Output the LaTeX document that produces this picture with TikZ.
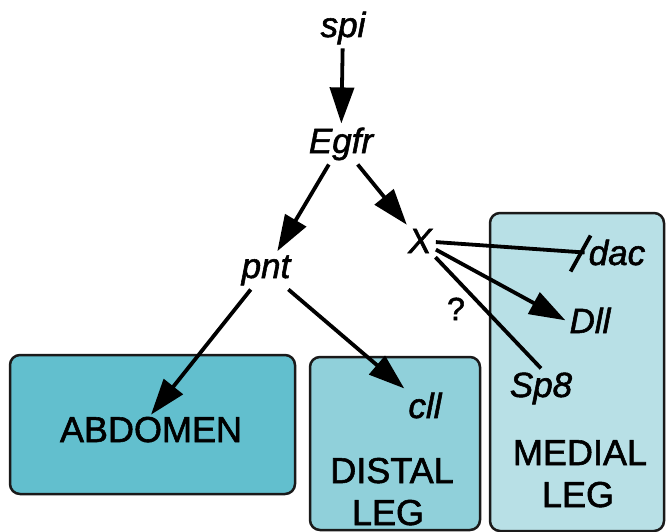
\documentclass[tikz,border=0pt]{standalone}
\usepackage{fontspec}
\setmainfont{Liberation Sans}
\newfontfamily\labfont[FakeBold=1.6,ItalicFeatures={FakeBold=1.6}]{Liberation Sans}
\usetikzlibrary{arrows.meta}
\definecolor{abdfill}{HTML}{62BFCE}
\definecolor{distfill}{HTML}{90D0DA}
\definecolor{medfill}{HTML}{B8E0E6}
\definecolor{edge}{HTML}{1A1A1A}
\begin{document}
\begin{tikzpicture}[x=1pt,y=-1pt,
  gene/.style={font=\labfont\fontsize{35}{40}\selectfont\itshape, inner sep=4pt, anchor=base},
  lab/.style={font=\labfont\fontsize{36}{40}\selectfont, inner sep=2pt, anchor=base},
  region/.style={draw=edge, line width=2.5pt, rounded corners=10pt, minimum width=#1},
  conn/.style={line width=3.8pt, draw=black},
  act/.style={conn, -{Triangle[length=36pt,width=24pt]}}
]
\useasboundingbox (0,0) rectangle (666,532);
% region boxes
\node[region=285pt, fill=abdfill, minimum height=139pt] (abdbox) at (152.5,424.5) {};
\node[region=170pt, fill=distfill, minimum height=173pt] (distbox) at (395,443.5) {};
\node[region=174pt, fill=medfill, minimum height=318pt] (medbox) at (577,372) {};
% genes
\node[gene] (spi) at (343,37) {spi};
\node[gene] (egfr) at (341,153) {Egfr};
\node[gene] (pnt) at (266,278) {pnt};
\node[gene] (x) at (420,253) {X};
\node[gene] (dac) at (617,265) {dac};
\node[gene] (dll) at (590,333) {Dll};
\node[gene] (sp8) at (541,397) {Sp8};
\node[gene] (cll) at (425,418) {cll};
\node[lab, font=\labfont\fontsize{32}{36}\selectfont] (q) at (456,320) {?};
% region labels
\node[lab] (abd) at (151,442) {ABDOMEN};
\node[lab] (dist1) at (392,483) {DISTAL};
\node[lab] (dist2) at (388,525) {LEG};
\node[lab] (med1) at (580,465) {MEDIAL};
\node[lab] (med2) at (578,507) {LEG};
% connectors
\draw[act] (spi) -- (egfr);
\draw[act] (egfr) -- (pnt);
\draw[act] (egfr) -- (x);
\draw[act] (pnt) -- (abd.north);
\draw[act] (pnt) -- (cll.north west);
\draw[act] (x) -- (dll.west);
\draw[conn] (x) -- (sp8.north);
\draw[conn] (x) -- coordinate[pos=1] (dacend) (dac.west);
\draw[conn] (dacend) ++(6,-17) -- ++(-20,36);
\end{tikzpicture}
\end{document}
